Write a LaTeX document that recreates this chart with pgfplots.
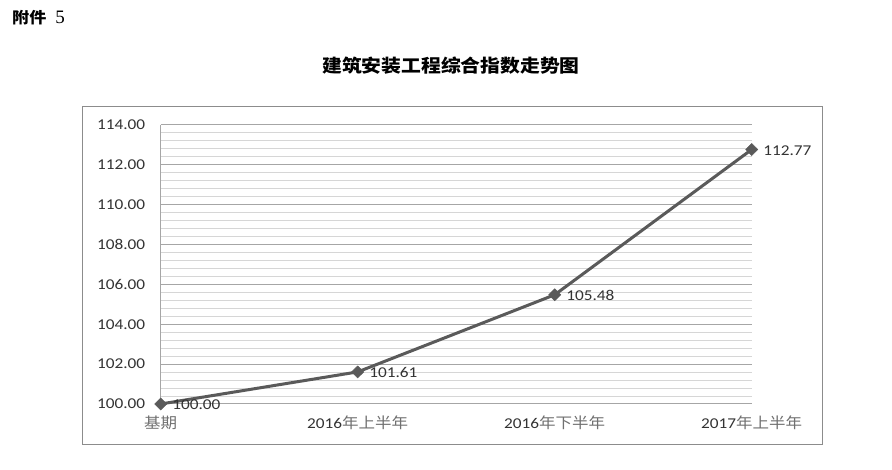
\documentclass[border=0pt]{standalone}
\usepackage{fontspec}
\usepackage{pgfplots}
\pgfplotsset{compat=1.18}
\setmainfont{Carlito}[FakeStretch=1.15]
\newfontfamily\cjk{Noto Sans CJK SC}[FakeStretch=1.1]
\newfontfamily\serifnum{Liberation Serif}
\definecolor{seriesgray}{HTML}{5A5A5A}
\definecolor{framegray}{HTML}{8C8C8C}
\definecolor{majorgrid}{HTML}{A6A6A6}
\definecolor{minorgrid}{HTML}{D6D6D6}
\definecolor{labeltext}{HTML}{333333}
\definecolor{cjkgray}{HTML}{707070}
\newcommand{\zh}[1]{{\cjk\textcolor{cjkgray}{#1}}}

\begin{document}
\begin{tikzpicture}[x=1pt,y=1pt]
\useasboundingbox[fill=white] (0,0) rectangle (892,470);
% heading and title
\node[anchor=west, inner sep=0] at (12,452)
  {{\cjk\bfseries\fontsize{15.5}{17}\selectfont 附件}\hspace{9pt}{\serifnum\fontsize{19}{20}\selectfont 5}};
\node[inner sep=0] at (451,404)
  {\cjk\bfseries\fontsize{18}{20}\selectfont 建筑安装工程综合指数走势图};
% chart frame
\draw[framegray, line width=1pt] (82,25) rectangle (822,363);
\begin{axis}[
  at={(160.7pt,66pt)}, anchor=south west,
  scale only axis, width=591pt, height=279pt,
  xmin=0, xmax=3, ymin=100, ymax=114,
  xtick={0,1,2,3},
  xticklabels={{\zh{基期}}, {2016\zh{年上半年}}, {2016\zh{年下半年}}, {2017\zh{年上半年}}},
  ytick distance=2, minor y tick num=4,
  ymajorgrids, yminorgrids,
  major grid style={majorgrid, line width=1pt},
  minor grid style={minorgrid, line width=1pt},
  axis x line*=bottom, axis y line*=left,
  axis line style={majorgrid, line width=1pt, -},
  major tick length=0pt, minor tick length=0pt,
  tick label style={font=\fontsize{15}{17}\selectfont, text=labeltext},
  xticklabel style={yshift=-8pt},
  yticklabel style={xshift=-12pt, /pgf/number format/.cd, fixed, fixed zerofill, precision=2, assume math mode=true},
  clip=false,
  nodes near coords={\pgfmathprintnumber[fixed,fixed zerofill,precision=2,assume math mode=true]{\pgfplotspointmeta}},
  every node near coord/.append style={anchor=west, xshift=8pt, yshift=-1pt, font=\fontsize{15}{17}\selectfont, text=labeltext},
]
\addplot[seriesgray, line width=3pt, mark=diamond*, mark size=6pt,
  mark options={fill=seriesgray, draw=seriesgray, line width=0.5pt, xscale=1.35}]
  coordinates {(0,100) (1,101.61) (2,105.48) (3,112.77)};
\end{axis}
\end{tikzpicture}
\end{document}
